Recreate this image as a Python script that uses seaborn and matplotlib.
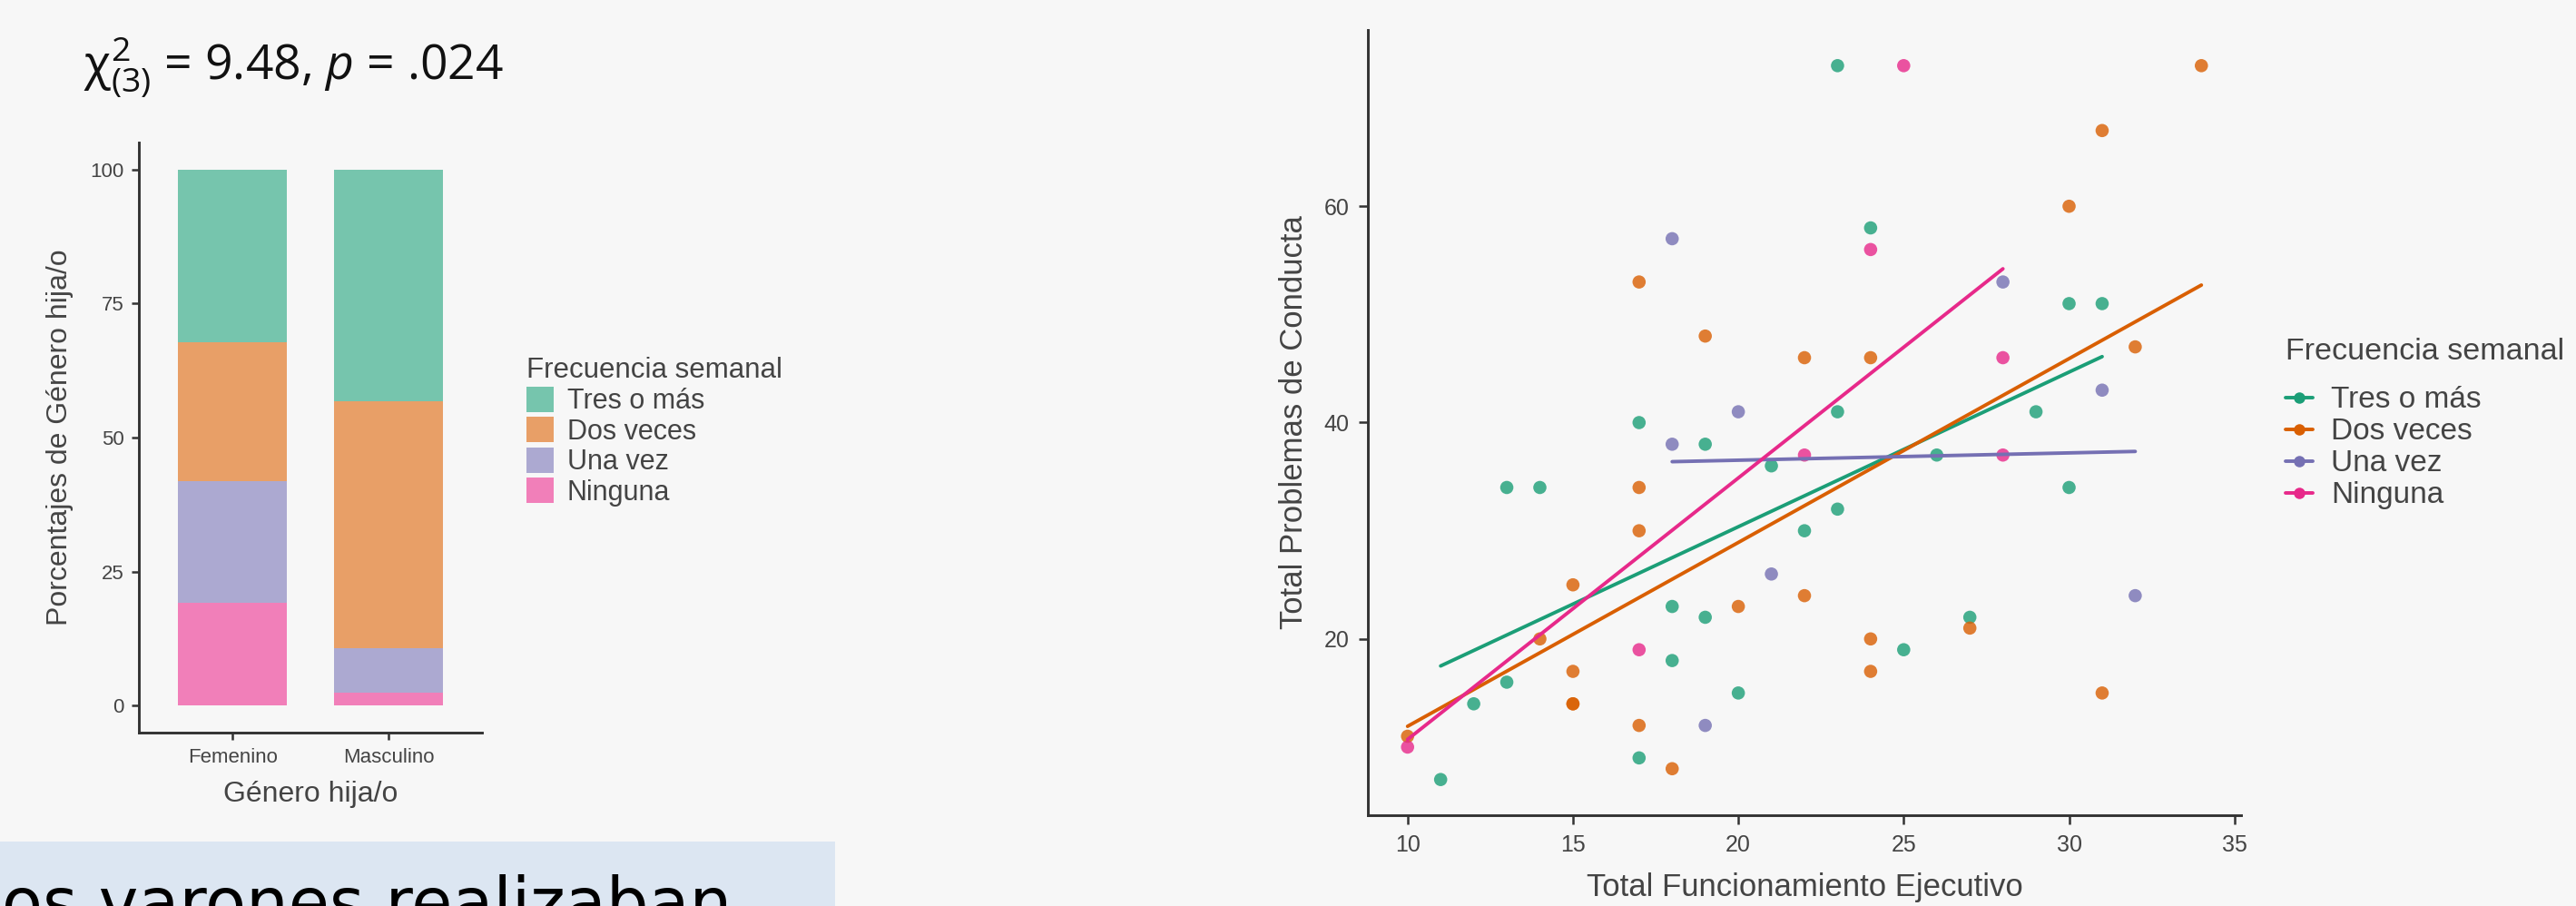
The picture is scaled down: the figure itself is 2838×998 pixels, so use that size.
import numpy as np
import pandas as pd
import matplotlib
matplotlib.use("Agg")
import matplotlib.pyplot as plt
import matplotlib.patches as mpatches
from matplotlib.colors import to_rgb
from matplotlib.lines import Line2D
import seaborn as sns

# ── data ─────────────────────────────────────────────────────────────────────
FREQ_LEVELS = ["Tres o más", "Dos veces", "Una vez", "Ninguna"]

GENEROS = ["Femenino", "Masculino"]
PCT_TRES = [32.2, 43.2]
PCT_DOS = [25.9, 46.1]
PCT_UNA = [22.7, 8.2]
PCT_NINGUNA = [19.2, 2.5]

# Total Funcionamiento Ejecutivo (x) / Total Problemas de Conducta (y)
TRES_X = [11, 12, 13, 13, 14, 17, 17, 18, 18, 19, 19, 20, 21, 22, 23, 23, 23, 24, 25, 26, 27, 29, 30, 30, 31]
TRES_Y = [7, 14, 16, 34, 34, 40, 9, 23, 18, 38, 22, 15, 36, 30, 73, 41, 32, 58, 19, 37, 22, 41, 51, 34, 51]
DOS_X = [10, 14, 15, 15, 15, 15, 17, 17, 17, 17, 18, 19, 20, 22, 22, 24, 24, 24, 27, 30, 31, 31, 32, 34]
DOS_Y = [11, 20, 25, 17, 14, 14, 53, 34, 30, 12, 8, 48, 23, 46, 24, 46, 20, 17, 21, 60, 67, 15, 47, 73]
UNA_X = [18, 18, 19, 20, 21, 28, 31, 32]
UNA_Y = [57, 38, 12, 41, 26, 53, 43, 24]
NING_X = [10, 17, 22, 24, 25, 28, 28]
NING_Y = [10, 19, 37, 56, 73, 46, 37]

# ── style ────────────────────────────────────────────────────────────────────
DARK2 = ["#1B9E77", "#D95F02", "#7570B3", "#E7298A"]
BG = "#f7f7f7"
AXIS_COL = "#333333"
TEXT_COL = "#444444"

W, H = 2838, 998

sns.set_style("ticks")
plt.rcParams["font.family"] = ["Liberation Sans", "DejaVu Sans"]
plt.rcParams["mathtext.fontset"] = "custom"
plt.rcParams["mathtext.rm"] = "Open Sans"
plt.rcParams["mathtext.it"] = "Open Sans:italic"


def blend(c, alpha=0.6):
    r, g, b = to_rgb(c)
    return (alpha * r + 1 - alpha, alpha * g + 1 - alpha, alpha * b + 1 - alpha)


def box(left, top, right, bottom):
    return [left / W, (H - bottom) / H, (right - left) / W, (bottom - top) / H]


def style_axis(ax, tick_size, tick_len, pad):
    sns.despine(ax=ax)
    for s in ("left", "bottom"):
        ax.spines[s].set_color(AXIS_COL)
        ax.spines[s].set_linewidth(2.1)
    ax.tick_params(colors=AXIS_COL, labelcolor=TEXT_COL, labelsize=tick_size,
                   length=tick_len, width=1.8, pad=pad)
    ax.set_facecolor("none")


def grey_legend(leg, title_gap):
    for t in leg.get_texts():
        t.set_color(TEXT_COL)
    leg.get_title().set_color(TEXT_COL)
    leg._legend_box.sep = title_gap


fig = plt.figure(figsize=(W / 100, H / 100), dpi=100, facecolor=BG)

# ── left: stacked percentage bars ────────────────────────────────────────────
bars = pd.DataFrame({
    "Ninguna": PCT_NINGUNA,
    "Una vez": PCT_UNA,
    "Dos veces": PCT_DOS,
    "Tres o más": PCT_TRES,
}, index=GENEROS)
bar_colors = {lvl: blend(c) for lvl, c in zip(FREQ_LEVELS, DARK2)}

ax1 = fig.add_axes(box(153, 157, 531, 807))
bars.plot(kind="bar", stacked=True, width=0.7, ax=ax1, legend=False,
          color=[bar_colors[c] for c in bars.columns], edgecolor="none")
ax1.set_xlim(-0.6, 1.6)
ax1.set_ylim(-5, 105)
ax1.set_yticks([0, 25, 50, 75, 100])
ax1.set_xticklabels(GENEROS, rotation=0)
style_axis(ax1, 16, 6, 6)
ax1.set_xlabel("Género hija/o", fontsize=23, color=TEXT_COL, labelpad=11)
ax1.set_ylabel("Porcentajes de Género hija/o", fontsize=23, color=TEXT_COL, labelpad=13)

patches = [mpatches.Patch(facecolor=bar_colors[l], edgecolor="none", label=l) for l in FREQ_LEVELS]
leg1 = fig.legend(handles=patches, title="Frecuencia semanal", loc="upper left",
                  bbox_to_anchor=(580 / W, 1 - 393 / H), frameon=False,
                  fontsize=22, title_fontsize=22.5, handlelength=0.97, handleheight=1.03,
                  labelspacing=0.07, handletextpad=0.5, borderpad=0, borderaxespad=0,
                  alignment="left")
grey_legend(leg1, 2)

fig.text(92 / W, 1 - 87 / H, r"$\mathrm{χ}^{2}_{(3)}$ = 9.48, $p$ = .024",
         family="Open Sans", fontsize=38.5, color="#111111", va="baseline")

# ── right: scatter with per-group linear fits ────────────────────────────────
groups = [(TRES_X, TRES_Y), (DOS_X, DOS_Y), (UNA_X, UNA_Y), (NING_X, NING_Y)]
df = pd.concat([
    pd.DataFrame({"fe": gx, "pc": gy, "freq": lvl})
    for lvl, (gx, gy) in zip(FREQ_LEVELS, groups)
], ignore_index=True)

ax2 = fig.add_axes(box(1507, 33, 2469, 898))
sns.scatterplot(data=df, x="fe", y="pc", hue="freq", hue_order=FREQ_LEVELS,
                palette=DARK2, s=110, alpha=0.8, linewidth=0, legend=False, ax=ax2)
for lvl, col in zip(FREQ_LEVELS, DARK2):
    sns.regplot(data=df[df["freq"] == lvl], x="fe", y="pc", scatter=False, ci=None,
                truncate=True, color=col, line_kws={"lw": 2.8}, ax=ax2)
ax2.set_xlim(8.8, 35.2)
ax2.set_ylim(3.7, 76.3)
ax2.set_xticks([10, 15, 20, 25, 30, 35])
ax2.set_yticks([20, 40, 60])
style_axis(ax2, 18, 7, 8)
ax2.set_xlabel("Total Funcionamiento Ejecutivo", fontsize=25, color=TEXT_COL, labelpad=13)
ax2.set_ylabel("Total Problemas de Conducta", fontsize=25, color=TEXT_COL, labelpad=12)

keys = [Line2D([0], [0], color=c, lw=2.8, marker="o", markersize=9,
               markerfacecolor=c, markeredgewidth=0) for c in DARK2]
leg2 = fig.legend(handles=keys, labels=FREQ_LEVELS, title="Frecuencia semanal",
                  loc="upper left", bbox_to_anchor=(2518 / W, 1 - 372 / H), frameon=False,
                  fontsize=24, title_fontsize=24.5, handlelength=0.9,
                  labelspacing=0.12, handletextpad=0.6, borderpad=0, borderaxespad=0,
                  alignment="left")
grey_legend(leg2, 16)

# ── bottom-left caption box (cut off in the slide) ───────────────────────────
fig.patches.append(mpatches.Rectangle((0, 0), 920 / W, (H - 927) / H, transform=fig.transFigure,
                                      facecolor="#dce6f2", edgecolor="none", zorder=0))
fig.text(2 / W, (H - 1020) / H, "os varones realizaban", family="DejaVu Sans",
         fontsize=53, color="#000000", va="baseline")

fig.savefig("out.png", dpi=100, facecolor=BG)
